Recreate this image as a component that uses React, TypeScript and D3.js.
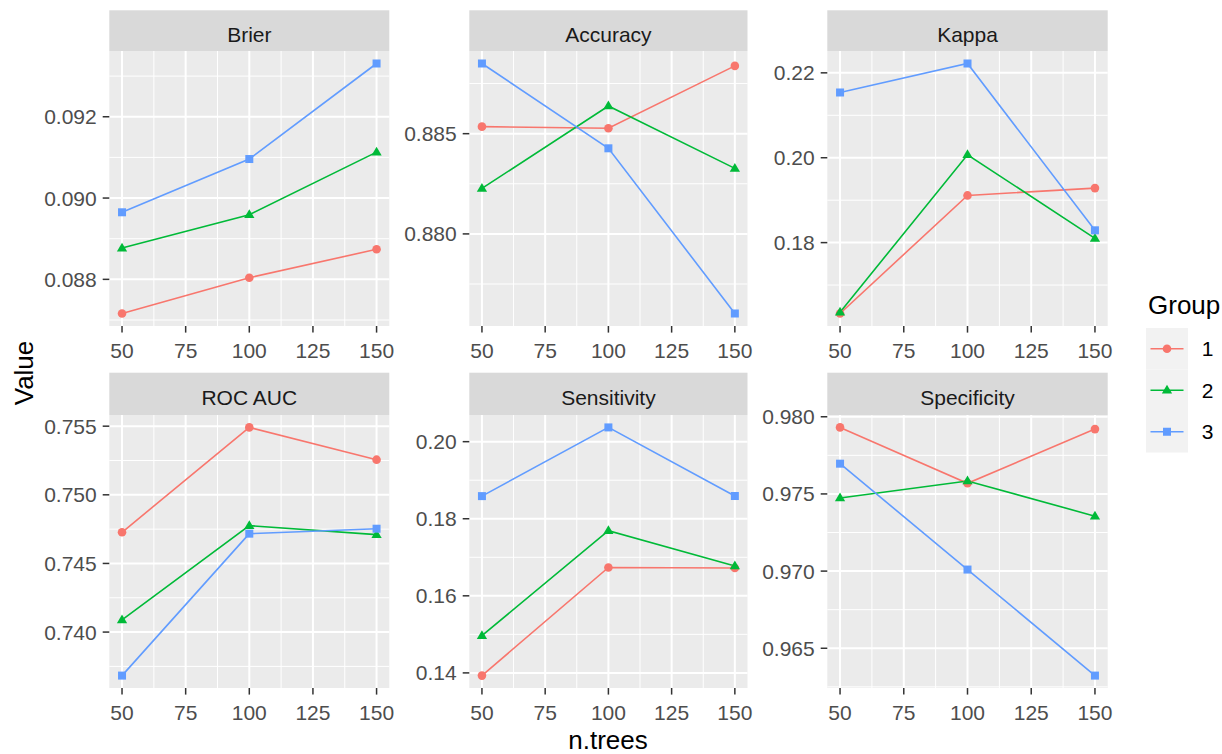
import React from "react";
import * as d3 from "d3";

// ---- data ----
const nTrees = [50, 100, 150];
const groups = ["1", "2", "3"];
const groupColors = ["#F8766D", "#00BA38", "#619CFF"];
const metrics = ["Brier", "Accuracy", "Kappa", "ROC AUC", "Sensitivity", "Specificity"];

// values per metric: [group1, group2, group3], each over nTrees
const brier = [
  [0.08716, 0.08804, 0.08874],
  [0.08877, 0.08959, 0.09113],
  [0.08965, 0.09096, 0.09331],
];
const accuracy = [
  [0.88535, 0.88527, 0.88838],
  [0.88227, 0.88638, 0.88327],
  [0.8885, 0.88427, 0.87603],
];
const kappa = [
  [0.1633, 0.19112, 0.19284],
  [0.1636, 0.2007, 0.181],
  [0.21537, 0.2222, 0.1829],
];
const rocAuc = [
  [0.74727, 0.75491, 0.75256],
  [0.74089, 0.74775, 0.7471],
  [0.73683, 0.74717, 0.74753],
];
const sensitivity = [
  [0.1393, 0.16735, 0.1672],
  [0.14965, 0.1769, 0.16776],
  [0.18587, 0.2037, 0.1859],
];
const specificity = [
  [0.97931, 0.97569, 0.9792],
  [0.97474, 0.97584, 0.97356],
  [0.97696, 0.9701, 0.96323],
];

// tick labels
const xTickLabels = ["50", "75", "100", "125", "150"];
const brierTicks = ["0.088", "0.090", "0.092"];
const accuracyTicks = ["0.880", "0.885"];
const kappaTicks = ["0.18", "0.20", "0.22"];
const rocAucTicks = ["0.740", "0.745", "0.750", "0.755"];
const sensitivityTicks = ["0.14", "0.16", "0.18", "0.20"];
const specificityTicks = ["0.965", "0.970", "0.975", "0.980"];

const metricValues = [brier, accuracy, kappa, rocAuc, sensitivity, specificity];
const metricTicks = [brierTicks, accuracyTicks, kappaTicks, rocAucTicks, sensitivityTicks, specificityTicks];

// ---- layout ----
const W = 1222;
const H = 754;
const colLeft = [109.3, 469.3, 827.3];
const colWidth = [280, 278.2, 280.4];
const stripTop = [10.3, 372.7];
const panelTop = [51, 415];
const panelBottom = [326, 688];
const FONT = "'Liberation Sans', Arial, Helvetica, sans-serif";

function Marker({ shape, x, y, color }: { shape: number; x: number; y: number; color: string }) {
  if (shape === 0) return <circle cx={x} cy={y} r={4.3} fill={color} />;
  if (shape === 1) {
    const s = 5.4;
    const pts = `${x},${y - s} ${x + s * 0.95},${y + s * 0.62} ${x - s * 0.95},${y + s * 0.62}`;
    return <polygon points={pts} fill={color} />;
  }
  return <rect x={x - 4} y={y - 4} width={8} height={8} fill={color} />;
}

function Panel({ idx }: { idx: number }) {
  const row = Math.floor(idx / 3);
  const col = idx % 3;
  const x0 = colLeft[col];
  const w = colWidth[col];
  const top = panelTop[row];
  const bottom = panelBottom[row];
  const sTop = stripTop[row];
  const values = metricValues[idx];
  const ticks = metricTicks[idx].map((t) => +t);

  const all = values.flat();
  const mn = d3.min(all)!;
  const mx = d3.max(all)!;
  const pad = (mx - mn) * 0.05;
  const y = d3.scaleLinear().domain([mn - pad, mx + pad]).range([bottom, top]);
  const xVals = xTickLabels.map((t) => +t);
  const xMin = d3.min(nTrees)!;
  const xMax = d3.max(nTrees)!;
  const xPad = (xMax - xMin) * 0.05;
  const x = d3.scaleLinear().domain([xMin - xPad, xMax + xPad]).range([x0, x0 + w]);

  const yStep = ticks[1] - ticks[0];
  const yMinor = [ticks[0] - yStep / 2, ...ticks.slice(0, -1).map((t) => t + yStep / 2), ticks[ticks.length - 1] + yStep / 2].filter(
    (v) => v >= y.domain()[0] && v <= y.domain()[1]
  );
  const xStep = xVals[1] - xVals[0];
  const xMinor = [xVals[0] - xStep / 2, ...xVals.slice(0, -1).map((t) => t + xStep / 2), xVals[xVals.length - 1] + xStep / 2].filter(
    (v) => v >= x.domain()[0] && v <= x.domain()[1]
  );

  const line = d3
    .line<number>()
    .x((_, i) => x(nTrees[i]))
    .y((d) => y(d));

  return (
    <g>
      {/* strip */}
      <rect x={x0} y={sTop} width={w} height={top - sTop} fill="#D9D9D9" />
      <text x={x0 + w / 2} y={sTop + 31.8} textAnchor="middle" fontSize={21} fill="#1A1A1A" fontFamily={FONT}>
        {metrics[idx]}
      </text>
      {/* panel */}
      <rect x={x0} y={top} width={w} height={bottom - top} fill="#EBEBEB" />
      {yMinor.map((v, i) => (
        <line key={"ym" + i} x1={x0} x2={x0 + w} y1={y(v)} y2={y(v)} stroke="#FFFFFF" strokeWidth={1} />
      ))}
      {xMinor.map((v, i) => (
        <line key={"xm" + i} x1={x(v)} x2={x(v)} y1={top} y2={bottom} stroke="#FFFFFF" strokeWidth={1} />
      ))}
      {ticks.map((v, i) => (
        <line key={"yM" + i} x1={x0} x2={x0 + w} y1={y(v)} y2={y(v)} stroke="#FFFFFF" strokeWidth={2} />
      ))}
      {xVals.map((v, i) => (
        <line key={"xM" + i} x1={x(v)} x2={x(v)} y1={top} y2={bottom} stroke="#FFFFFF" strokeWidth={2} />
      ))}
      {/* lines */}
      {values.map((vals, g) => (
        <path key={"l" + g} d={line(vals)!} fill="none" stroke={groupColors[g]} strokeWidth={1.6} />
      ))}
      {/* points */}
      {values.map((vals, g) =>
        vals.map((v, i) => <Marker key={"p" + g + "_" + i} shape={g} x={x(nTrees[i])} y={y(v)} color={groupColors[g]} />)
      )}
      {/* y axis */}
      {ticks.map((v, i) => (
        <g key={"yt" + i}>
          <line x1={x0 - 6.6} x2={x0} y1={y(v)} y2={y(v)} stroke="#333333" strokeWidth={1.5} />
          <text x={x0 - 12.6} y={y(v)} dy="0.36em" textAnchor="end" fontSize={21} fill="#4D4D4D" fontFamily={FONT}>
            {metricTicks[idx][i]}
          </text>
        </g>
      ))}
      {/* x axis */}
      {xVals.map((v, i) => (
        <g key={"xt" + i}>
          <line x1={x(v)} x2={x(v)} y1={bottom} y2={bottom + 6.6} stroke="#333333" strokeWidth={1.5} />
          <text x={x(v)} y={bottom + 32.3} textAnchor="middle" fontSize={21} fill="#4D4D4D" fontFamily={FONT}>
            {xTickLabels[i]}
          </text>
        </g>
      ))}
    </g>
  );
}

export default function App() {
  const legendX = 1146;
  const legendTop = 328;
  const keyH = 41.5;
  const keyW = 42;
  return (
    <svg width={W} height={H} style={{ position: "absolute", left: 0, top: 0, background: "#FFFFFF" }} fontFamily={FONT}>
      <rect x={0} y={0} width={W} height={H} fill="#FFFFFF" />
      {metrics.map((_, i) => (
        <Panel key={i} idx={i} />
      ))}
      {/* axis titles */}
      <text x={608} y={749} textAnchor="middle" fontSize={26} fill="#000000">
        n.trees
      </text>
      <text transform="translate(32.5,373) rotate(-90)" textAnchor="middle" fontSize={26} fill="#000000">
        Value
      </text>
      {/* legend */}
      <text x={1148} y={314.3} fontSize={26} fill="#000000">
        Group
      </text>
      {groups.map((g, i) => {
        const cy = legendTop + keyH * i + keyH / 2;
        return (
          <g key={g}>
            <rect x={legendX} y={legendTop + keyH * i} width={keyW} height={keyH} fill="#F2F2F2" />
            <line x1={legendX + 4.5} x2={legendX + keyW - 4.5} y1={cy} y2={cy} stroke={groupColors[i]} strokeWidth={1.6} />
            <Marker shape={i} x={legendX + keyW / 2} y={cy} color={groupColors[i]} />
            <text x={1201.7} y={cy + 7.5} fontSize={21} fill="#000000">
              {g}
            </text>
          </g>
        );
      })}
    </svg>
  );
}
